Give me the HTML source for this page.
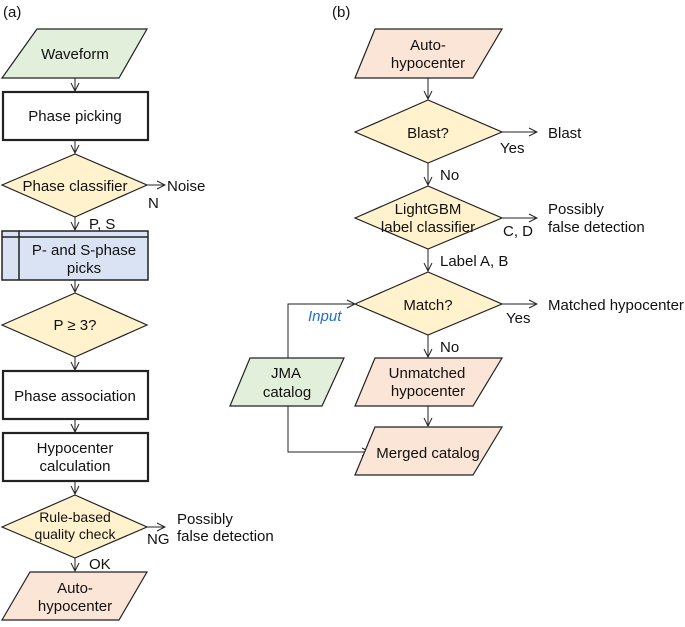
<!DOCTYPE html>
<html><head><meta charset="utf-8"><style>
html,body{margin:0;padding:0;background:#fff}
svg text{font-family:"Liberation Sans",Arial,sans-serif;font-size:15px;fill:#111}
</style></head><body>
<svg width="685" height="622" viewBox="0 0 685 622" xmlns="http://www.w3.org/2000/svg">
<defs>
<marker id="a" markerWidth="10" markerHeight="10" refX="9" refY="5" orient="auto" markerUnits="userSpaceOnUse">
<path d="M1,1 L9,5 L1,9" fill="none" stroke="#222" stroke-width="1"/></marker>
</defs>
<g stroke="#222" stroke-width="1" fill="none" marker-end="url(#a)">
<line x1="75" y1="78" x2="75" y2="91"/>
<line x1="75" y1="140" x2="75" y2="153"/>
<line x1="147" y1="185" x2="165" y2="185"/>
<line x1="75" y1="217" x2="75" y2="230"/>
<line x1="75" y1="280" x2="75" y2="292"/>
<line x1="75" y1="357" x2="75" y2="370"/>
<line x1="75" y1="419" x2="75" y2="432"/>
<line x1="75" y1="481" x2="75" y2="494"/>
<line x1="147" y1="527" x2="165" y2="527"/>
<line x1="75" y1="558" x2="75" y2="571"/>
<line x1="428" y1="78" x2="428" y2="99"/>
<line x1="502" y1="132" x2="537" y2="132"/>
<line x1="428" y1="163" x2="428" y2="185"/>
<line x1="502" y1="218" x2="537" y2="218"/>
<line x1="428" y1="249" x2="428" y2="271"/>
<line x1="502" y1="304" x2="537" y2="304"/>
<line x1="428" y1="335" x2="428" y2="357"/>
<line x1="428" y1="406" x2="428" y2="426"/>
<polyline points="288,358 288,304 355,304"/>
<polyline points="288,406 288,452 370,452"/>
</g>
<g stroke="#222" stroke-width="1.2">
<polygon points="2,78 37,29 147,29 119,78" fill="#e2efda"/>
<rect x="3" y="92" width="145" height="48" fill="#fff" stroke-width="2.2"/>
<polygon points="2,185 75,154 147,185 75,217" fill="#fff2cc"/>
<rect x="2" y="231" width="146" height="49" fill="#dae3f3" stroke-width="1.5"/>
<line x1="2" y1="237" x2="148" y2="237" stroke-width="1.5"/>
<line x1="19" y1="231" x2="19" y2="280" stroke-width="1.5"/>
<polygon points="2,325 75,293 147,325 75,357" fill="#fff2cc"/>
<rect x="3" y="371" width="145" height="48" fill="#fff" stroke-width="2.2"/>
<rect x="3" y="433" width="145" height="48" fill="#fff" stroke-width="2.2"/>
<polygon points="2,527 75,495 147,527 75,558" fill="#fff2cc"/>
<polygon points="2,620 30,572 147,572 119,620" fill="#fbe5d6"/>
<polygon points="355,78 375,29 502,29 473,78" fill="#fbe5d6"/>
<polygon points="355,132 428,100 502,132 428,163" fill="#fff2cc"/>
<polygon points="355,218 428,186 502,218 428,249" fill="#fff2cc"/>
<polygon points="355,304 428,272 502,304 428,335" fill="#fff2cc"/>
<polygon points="355,406 375,358 502,358 473,406" fill="#fbe5d6"/>
<polygon points="355,475 375,427 502,427 473,475" fill="#fbe5d6"/>
<polygon points="230,406 250,358 344,358 322,406" fill="#e2efda"/>
</g>
<g text-anchor="middle">
<text x="75" y="59">Waveform</text>
<text x="75" y="121">Phase picking</text>
<text x="75" y="191">Phase classifier</text>
<text x="84" y="255">P- and S-phase</text>
<text x="84" y="273">picks</text>
<text x="75" y="330">P ≥ 3?</text>
<text x="75" y="401">Phase association</text>
<text x="75" y="453">Hypocenter</text>
<text x="75" y="471">calculation</text>
<text x="75" y="522" style="font-size:14px">Rule-based</text>
<text x="75" y="539" style="font-size:14px">quality check</text>
<text x="75" y="593">Auto-</text>
<text x="75" y="611">hypocenter</text>
<text x="428" y="50">Auto-</text>
<text x="428" y="68">hypocenter</text>
<text x="428" y="138">Blast?</text>
<text x="428" y="214">LightGBM</text>
<text x="428" y="232">label classifier</text>
<text x="428" y="310">Match?</text>
<text x="427" y="378">Unmatched</text>
<text x="428" y="396">hypocenter</text>
<text x="428" y="458">Merged catalog</text>
<text x="286" y="378">JMA</text>
<text x="287" y="397">catalog</text>
</g>
<text x="3" y="17">(a)</text>
<text x="332" y="17">(b)</text>
<text x="167" y="191">Noise</text>
<text x="148" y="208">N</text>
<text x="89" y="229">P, S</text>
<text x="177" y="524">Possibly</text>
<text x="177" y="541">false detection</text>
<text x="147" y="544">NG</text>
<text x="89" y="569">OK</text>
<text x="548" y="138">Blast</text>
<text x="500" y="153">Yes</text>
<text x="440" y="180">No</text>
<text x="548" y="214">Possibly</text>
<text x="548" y="232">false detection</text>
<text x="503" y="236">C, D</text>
<text x="440" y="266">Label A, B</text>
<text x="548" y="310">Matched hypocenter</text>
<text x="506" y="323">Yes</text>
<text x="308" y="321" style="fill:#1a73c8;font-style:italic">Input</text>
<text x="440" y="352">No</text>
</svg>
</body></html>
